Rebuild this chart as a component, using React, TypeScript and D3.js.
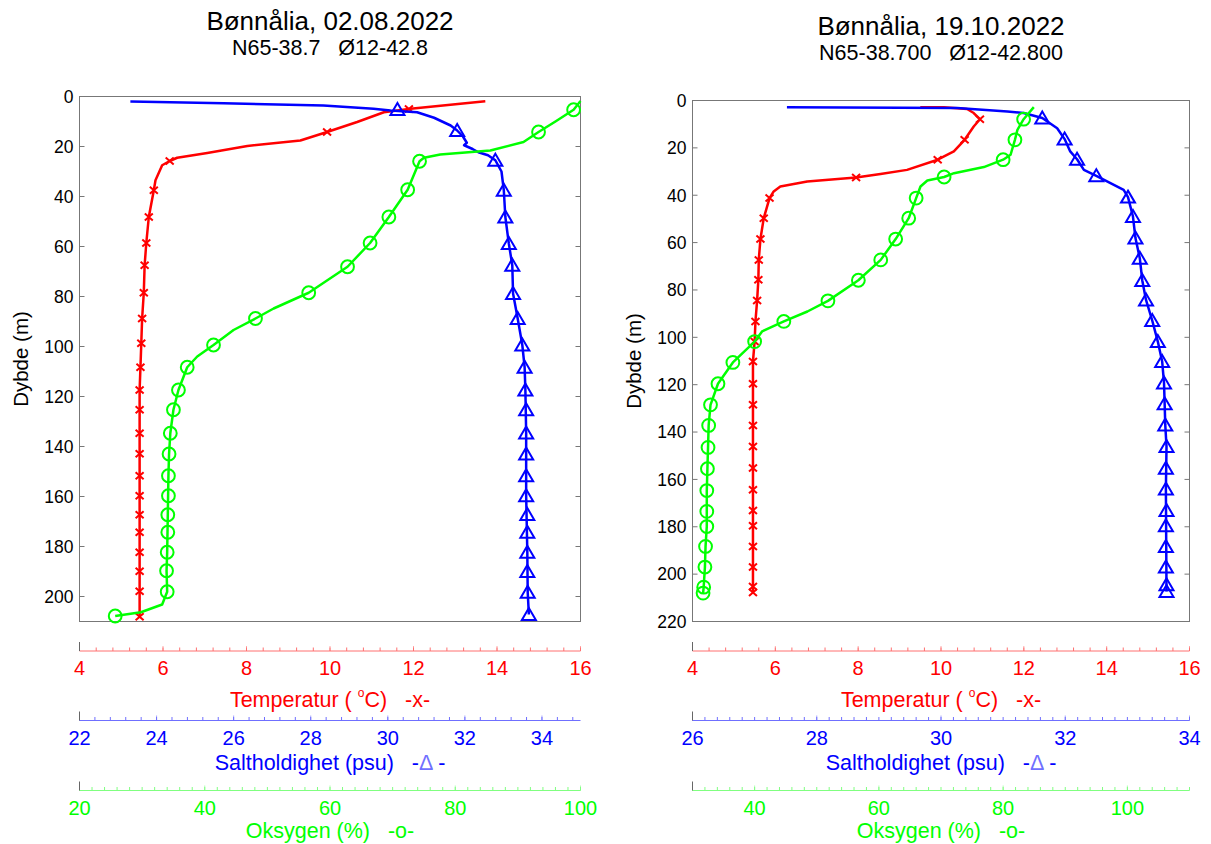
import { useMemo } from 'react'
import * as d3 from 'd3'

type Pt = [number, number] // [depth (m), value]

// ---- Bønnålia 02.08.2022 ----
const augTempLine: Pt[] = [
  [1.9, 13.72], [4.9, 11.93], [6.3, 11.29], [10.2, 10.65], [14.2, 9.93], [17.6, 9.29], [19.8, 8.02],
  [22.6, 7.06], [24.5, 6.34], [25.8, 6.16], [27.5, 5.98], [33.5, 5.82], [37.5, 5.78], [48.2, 5.66],
  [58.6, 5.6], [67.5, 5.56], [78.5, 5.54], [88.8, 5.5], [98.7, 5.48], [108.3, 5.46], [117.4, 5.44], [208.1, 5.44],
]
const augTempMarks: Pt[] = [
  [5.0, 11.89], [14.2, 9.93], [25.8, 6.16], [37.5, 5.78], [48.2, 5.66], [58.6, 5.6], [67.5, 5.56],
  [78.5, 5.54], [88.8, 5.5], [98.7, 5.48], [108.3, 5.46], [117.4, 5.44], [125.3, 5.44], [134.7, 5.44],
  [142.9, 5.44], [151.7, 5.44], [159.7, 5.44], [167.3, 5.44], [174.3, 5.44], [182.3, 5.44], [189.9, 5.44],
  [197.9, 5.44], [208.1, 5.44],
]
const augSalLine: Pt[] = [
  [2.0, 23.32], [2.7, 25.74], [3.6, 28.33], [4.9, 29.63], [5.6, 30.07], [6.3, 30.76], [8.5, 31.2],
  [11.6, 31.63], [13.6, 31.8], [16, 31.95], [18.5, 32.05], [19.5, 31.98], [21, 32.2], [22.3, 32.35],
  [23.5, 32.6], [25.5, 32.79], [30, 32.95], [37.5, 33.01], [48.2, 33.05], [58.8, 33.14], [67.5, 33.23],
  [78.8, 33.25], [88.8, 33.37], [99.4, 33.49], [108.3, 33.55], [117.4, 33.57], [134.6, 33.59],
  [159.7, 33.59], [182.3, 33.62], [198.3, 33.63], [207.2, 33.66],
]
const augSalMarks: Pt[] = [
  [5.2, 30.25], [13.6, 31.8], [25.5, 32.79], [37.5, 33.01], [48.2, 33.05], [58.8, 33.14], [67.5, 33.23],
  [78.8, 33.25], [88.8, 33.37], [99.4, 33.49], [108.3, 33.55], [117.4, 33.57], [125.3, 33.59], [134.6, 33.59],
  [143, 33.59], [151.7, 33.59], [159.7, 33.59], [167.2, 33.62], [174.3, 33.62], [182.3, 33.62], [190, 33.62],
  [198.3, 33.63], [207.2, 33.66],
]
const augOxyLine: Pt[] = [
  [1.8, 100], [5.3, 98.9], [10, 96], [14.2, 93.3], [18.2, 90.9], [21.6, 85.6], [23.2, 77.6], [24.5, 75.0],
  [25.9, 74.3], [29.5, 73.7], [37.3, 72.4], [48.2, 69.4], [58.6, 66.4], [68.1, 62.8], [78.5, 56.6],
  [84.8, 51.0], [88.8, 48.1], [93.4, 44.6], [99.4, 41.4], [104, 38.8], [108.3, 37.2], [117.4, 35.8],
  [125.3, 35.0], [134.7, 34.5], [143, 34.3], [151.7, 34.2], [167.3, 34.1], [182.3, 34.0], [189.7, 33.9],
  [198.1, 34.0], [203.2, 33.2], [206.3, 29.8], [207.8, 25.7],
]
const augOxyMarks: Pt[] = [
  [5.3, 98.9], [14.2, 93.3], [25.9, 74.3], [37.3, 72.4], [48.2, 69.4], [58.6, 66.4], [68.1, 62.8],
  [78.5, 56.6], [88.8, 48.1], [99.4, 41.4], [108.3, 37.2], [117.4, 35.8], [125.3, 35.0], [134.7, 34.5],
  [143, 34.3], [151.7, 34.2], [159.7, 34.2], [167.3, 34.1], [174.3, 34.1], [182.3, 34.0], [189.7, 33.9],
  [198.1, 34.0], [207.8, 25.7],
]
const augDepthTicks = [0, 20, 40, 60, 80, 100, 120, 140, 160, 180, 200]
const augTempTicks = [4, 6, 8, 10, 12, 14, 16]
const augSalTicks = [22, 24, 26, 28, 30, 32, 34]
const augOxyTicks = [20, 40, 60, 80, 100]

// ---- Bønnålia 19.10.2022 ----
const octTempLine: Pt[] = [
  [2.8, 9.5], [2.8, 10.07], [3.6, 10.63], [5.3, 10.79], [7.9, 10.94], [11.0, 10.79], [16.6, 10.57],
  [21.5, 10.31], [25.0, 9.92], [29.3, 9.18], [31.0, 8.54], [32.5, 7.95], [34.2, 6.77], [36.3, 6.12],
  [38.4, 5.96], [41.2, 5.86], [49.7, 5.72], [58.5, 5.64], [67.3, 5.6], [75.7, 5.59], [84.5, 5.56],
  [93.3, 5.52], [101.8, 5.5], [110.2, 5.46], [207.8, 5.46],
]
const octTempMarks: Pt[] = [
  [7.9, 10.94], [16.6, 10.57], [25.0, 9.92], [32.5, 7.95], [41.2, 5.86], [49.7, 5.72], [58.5, 5.64],
  [67.3, 5.6], [75.7, 5.59], [84.5, 5.56], [93.3, 5.52], [101.8, 5.5], [110.2, 5.46], [119.6, 5.46],
  [128.5, 5.46], [137.2, 5.46], [146.1, 5.46], [155.2, 5.46], [164.4, 5.46], [173.1, 5.46], [179.6, 5.46],
  [188.3, 5.46], [197.0, 5.46], [205.2, 5.46], [207.8, 5.46],
]
const octSalLine: Pt[] = [
  [2.8, 27.52], [3.2, 30.26], [4.6, 31.07], [5.3, 31.33], [7.4, 31.63], [11.7, 31.87], [16.3, 31.99],
  [21.5, 32.08], [24.8, 32.19], [29.3, 32.3], [31.8, 32.5], [37.7, 32.94], [40.8, 33.01], [49.0, 33.09],
  [58.1, 33.13], [66.6, 33.2], [76.0, 33.24], [84.2, 33.3], [92.9, 33.4], [101.8, 33.49], [110.2, 33.56],
  [119.3, 33.59], [128.1, 33.6], [137.0, 33.61], [146.1, 33.63], [164.1, 33.62], [207.3, 33.63],
]
const octSalMarks: Pt[] = [
  [7.4, 31.63], [16.3, 31.99], [24.8, 32.19], [31.8, 32.5], [40.8, 33.01], [49.0, 33.09], [58.1, 33.13],
  [66.6, 33.2], [76.0, 33.24], [84.2, 33.3], [92.9, 33.4], [101.8, 33.49], [110.2, 33.56], [119.3, 33.59],
  [128.1, 33.6], [137.0, 33.61], [146.1, 33.63], [155.3, 33.62], [164.1, 33.62], [173.1, 33.63],
  [179.6, 33.62], [188.3, 33.62], [197.0, 33.62], [204.5, 33.63], [207.3, 33.63],
]
const octOxyLine: Pt[] = [
  [2.8, 84.94], [6.0, 83.9], [7.9, 83.3], [12.4, 82.3], [16.6, 81.9], [22.9, 81.2], [25.0, 80.0],
  [28.1, 76.9], [30.7, 72.1], [32.3, 70.5], [33.8, 67.8], [36.3, 66.7], [41.2, 66.0], [49.7, 64.8],
  [58.5, 62.7], [67.3, 60.3], [75.9, 56.7], [84.6, 51.8], [89.1, 48.5], [93.3, 44.7], [97.5, 41.2],
  [101.8, 40.0], [110.6, 36.5], [119.6, 34.1], [128.5, 32.9], [137.2, 32.6], [146.5, 32.5], [155.5, 32.4],
  [164.7, 32.3], [179.9, 32.3], [188.3, 32.1], [197.0, 32.0], [205.5, 31.8], [208.0, 31.7],
]
const octOxyMarks: Pt[] = [
  [7.9, 83.3], [16.6, 81.9], [25.0, 80.0], [32.3, 70.5], [41.2, 66.0], [49.7, 64.8], [58.5, 62.7],
  [67.3, 60.3], [75.9, 56.7], [84.6, 51.8], [93.3, 44.7], [101.8, 40.0], [110.6, 36.5], [119.6, 34.1],
  [128.5, 32.9], [137.2, 32.6], [146.5, 32.5], [155.5, 32.4], [164.7, 32.3], [173.5, 32.3], [179.9, 32.3],
  [188.3, 32.1], [197.0, 32.0], [205.5, 31.8], [208.0, 31.7],
]
const octDepthTicks = [0, 20, 40, 60, 80, 100, 120, 140, 160, 180, 200, 220]
const octTempTicks = [4, 6, 8, 10, 12, 14, 16]
const octSalTicks = [26, 28, 30, 32, 34]
const octOxyTicks = [40, 60, 80, 100]

const FONT = '"Liberation Sans", Arial, Helvetica, sans-serif'
const RED = '#ff0000'
const BLUE = '#0000ff'
const GREEN = '#00ff00'

type AxisDef = {
  domain: [number, number]
  ticks: number[]
  minor: number
}

type PanelProps = {
  title: string
  subtitle: string
  left: number
  right: number
  top: number
  bottom: number
  titleY: number
  depthMax: number
  depthTicks: number[]
  temp: AxisDef
  sal: AxisDef
  oxy: AxisDef
  tempLine: Pt[]
  tempMarks: Pt[]
  salLine: Pt[]
  salMarks: Pt[]
  oxyLine: Pt[]
  oxyMarks: Pt[]
}

function ScaleBar({ x0, x1, y, axis, color, faint }: { x0: number; x1: number; y: number; axis: AxisDef; color: string; faint: string }) {
  const scale = d3.scaleLinear().domain(axis.domain).range([x0, x1])
  const count = Math.floor((axis.domain[1] - axis.domain[0]) / axis.minor + 1e-6)
  const minorTicks = d3.range(count + 1).map((i) => axis.domain[0] + i * axis.minor)
  return (
    <g>
      <line x1={x0} x2={x1} y1={y} y2={y} stroke={faint} strokeWidth={1} />
      {minorTicks.map((t, i) => (
        <line key={`m${i}`} x1={scale(t)} x2={scale(t)} y1={y} y2={y - 3.5} stroke={faint} />
      ))}
      {axis.ticks.map((t) => (
        <line key={`M${t}`} x1={scale(t)} x2={scale(t)} y1={y} y2={y - 5} stroke={faint} opacity={0.6} />
      ))}
      <line x1={x0} x2={x0} y1={y} y2={y - 9} stroke="#666" />
      {axis.ticks.map((t) => (
        <text key={`l${t}`} x={scale(t)} y={y + 24} textAnchor="middle" fill={color} fontSize={20}>
          {t}
        </text>
      ))}
    </g>
  )
}

function Panel(p: PanelProps) {
  const y = useMemo(() => d3.scaleLinear().domain([0, p.depthMax]).range([p.top, p.bottom]), [p])
  const xT = d3.scaleLinear().domain(p.temp.domain).range([p.left, p.right])
  const xS = d3.scaleLinear().domain(p.sal.domain).range([p.left, p.right])
  const xO = d3.scaleLinear().domain(p.oxy.domain).range([p.left, p.right])

  const path = (xs: d3.ScaleLinear<number, number>, pts: Pt[]) =>
    d3.line<Pt>().x((d) => xs(d[1])).y((d) => y(d[0]))(pts) ?? ''

  const cx = (p.left + p.right) / 2
  const cy = (p.top + p.bottom) / 2
  const tempY = 651
  const salY = 720.5
  const oxyY = 790.5

  return (
    <g>
      <text x={cx} y={p.titleY} textAnchor="middle" fontSize={26} fill="#000">
        {p.title}
      </text>
      <text x={cx} y={p.titleY + 25} textAnchor="middle" fontSize={21.5} fill="#000" style={{ whiteSpace: 'pre' }}>
        {p.subtitle}
      </text>

      {/* plot frame */}
      <rect x={p.left} y={p.top} width={p.right - p.left} height={p.bottom - p.top} fill="none" stroke="#777" strokeWidth={1} />
      {p.depthTicks.map((t) => (
        <g key={t}>
          <line x1={p.left} x2={p.left + 5} y1={y(t)} y2={y(t)} stroke="#777" />
          <line x1={p.right - 5} x2={p.right} y1={y(t)} y2={y(t)} stroke="#777" />
          <text x={p.left - 6} y={y(t)} dy="0.36em" textAnchor="end" fontSize={17.5} fill="#000">
            {t}
          </text>
        </g>
      ))}
      <text
        transform={`translate(${p.left - 59}, ${cy}) rotate(-90)`}
        textAnchor="middle"
        dominantBaseline="central"
        fontSize={20.5}
        fill="#000"
      >
        Dybde (m)
      </text>

      {/* temperature */}
      <path d={path(xT, p.tempLine)} fill="none" stroke={RED} strokeWidth={2.5} strokeLinejoin="round" />
      {p.tempMarks.map((d, i) => {
        const px = xT(d[1])
        const py = y(d[0])
        return (
          <path
            key={`t${i}`}
            d={`M${px - 4},${py - 3.5}L${px + 4},${py + 3.5}M${px - 4},${py + 3.5}L${px + 4},${py - 3.5}`}
            stroke={RED}
            strokeWidth={2}
            fill="none"
          />
        )
      })}

      {/* salinity */}
      <path d={path(xS, p.salLine)} fill="none" stroke={BLUE} strokeWidth={2.5} strokeLinejoin="round" />
      {p.salMarks.map((d, i) => {
        const px = xS(d[1])
        const py = y(d[0])
        return (
          <path
            key={`s${i}`}
            d={`M${px},${py - 6.5}L${px + 7},${py + 5.5}L${px - 7},${py + 5.5}Z`}
            stroke={BLUE}
            strokeWidth={2}
            fill="none"
          />
        )
      })}

      {/* oxygen */}
      <path d={path(xO, p.oxyLine)} fill="none" stroke={GREEN} strokeWidth={2.5} strokeLinejoin="round" />
      {p.oxyMarks.map((d, i) => (
        <circle key={`o${i}`} cx={xO(d[1])} cy={y(d[0])} r={6.4} stroke={GREEN} strokeWidth={2} fill="none" />
      ))}

      {/* stacked x axes */}
      <ScaleBar x0={p.left} x1={p.right} y={tempY} axis={p.temp} color={RED} faint="#ff7070" />
      <text x={cx} y={tempY + 56} textAnchor="middle" fontSize={21.5} fill={RED} style={{ whiteSpace: 'pre' }}>
        Temperatur ( <tspan fontSize={12} dy={-10}>o</tspan>
        <tspan dy={10}>C)   -x-</tspan>
      </text>
      <ScaleBar x0={p.left} x1={p.right} y={salY} axis={p.sal} color={BLUE} faint="#6f6fff" />
      <text x={cx} y={salY + 49} textAnchor="middle" fontSize={21.5} fill={BLUE} style={{ whiteSpace: 'pre' }}>
        Saltholdighet (psu)   -<tspan fill="#7070ff">Δ</tspan> -
      </text>
      <ScaleBar x0={p.left} x1={p.right} y={oxyY} axis={p.oxy} color={GREEN} faint="#80ff80" />
      <text x={cx} y={oxyY + 47} textAnchor="middle" fontSize={21.5} fill={GREEN} style={{ whiteSpace: 'pre' }}>
        Oksygen (%)   -o-
      </text>
    </g>
  )
}

export default function App() {
  return (
    <svg
      width={1211}
      height={844}
      viewBox="0 0 1211 844"
      style={{ position: 'absolute', left: 0, top: 0, background: '#fff', fontFamily: FONT }}
    >
      <rect width={1211} height={844} fill="#fff" />
      <Panel
        title="Bønnålia, 02.08.2022"
        subtitle="N65-38.7   Ø12-42.8"
        left={79.5}
        right={580.5}
        top={96.5}
        bottom={621.5}
        titleY={30}
        depthMax={210}
        depthTicks={augDepthTicks}
        temp={{ domain: [4, 16], ticks: augTempTicks, minor: 0.4 }}
        sal={{ domain: [22, 35], ticks: augSalTicks, minor: 0.4 }}
        oxy={{ domain: [20, 100], ticks: augOxyTicks, minor: 2 }}
        tempLine={augTempLine}
        tempMarks={augTempMarks}
        salLine={augSalLine}
        salMarks={augSalMarks}
        oxyLine={augOxyLine}
        oxyMarks={augOxyMarks}
      />
      <Panel
        title="Bønnålia, 19.10.2022"
        subtitle="N65-38.700   Ø12-42.800"
        left={692.5}
        right={1189.5}
        top={100.5}
        bottom={621.5}
        titleY={35}
        depthMax={220}
        depthTicks={octDepthTicks}
        temp={{ domain: [4, 16], ticks: octTempTicks, minor: 0.4 }}
        sal={{ domain: [26, 34], ticks: octSalTicks, minor: 0.2 }}
        oxy={{ domain: [30, 110], ticks: octOxyTicks, minor: 2 }}
        tempLine={octTempLine}
        tempMarks={octTempMarks}
        salLine={octSalLine}
        salMarks={octSalMarks}
        oxyLine={octOxyLine}
        oxyMarks={octOxyMarks}
      />
    </svg>
  )
}
